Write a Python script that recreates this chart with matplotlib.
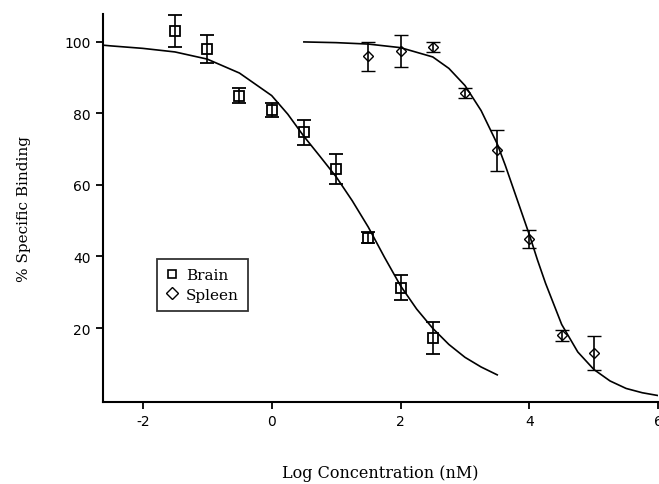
import matplotlib
matplotlib.use("Agg")
import matplotlib.pyplot as plt
from matplotlib.lines import Line2D

plt.rcParams["axes.unicode_minus"] = False

# Brain (squares)
brain_x = [-1.5, -1.0, -0.5, 0.0, 0.5, 1.0, 1.5, 2.0, 2.5]
brain_y = [103.0, 98.0, 85.0, 81.0, 74.8, 64.5, 45.3, 31.3, 17.2]
brain_err = [4.5, 4.0, 2.0, 2.0, 3.5, 4.3, 1.5, 3.5, 4.5]

# Spleen (diamonds)
spleen_x = [1.5, 2.0, 2.5, 3.0, 3.5, 4.0, 4.5, 5.0]
spleen_y = [96.0, 97.5, 98.6, 85.7, 69.7, 45.0, 18.0, 13.0]
spleen_err = [4.0, 4.5, 1.5, 1.5, 5.8, 2.5, 1.5, 4.7]

# fitted curves
brain_fit_x = [-2.62, -2.5, -2.0, -1.5, -1.0, -0.5, 0.0, 0.25, 0.5, 0.75, 1.0,
               1.25, 1.5, 1.75, 2.0, 2.25, 2.5, 2.75, 3.0, 3.25, 3.5]
brain_fit_y = [99.1, 98.9, 98.2, 97.2, 95.2, 91.3, 85.0, 79.8, 73.6, 68.0, 62.3,
               55.6, 48.2, 39.8, 31.8, 25.3, 19.9, 15.4, 11.8, 9.1, 6.9]
spleen_fit_x = [0.5, 1.0, 1.5, 2.0, 2.5, 2.75, 3.0, 3.25, 3.5, 3.625, 3.75, 3.875,
                4.0, 4.125, 4.25, 4.5, 4.75, 5.0, 5.25, 5.5, 5.75, 6.0]
spleen_fit_y = [100.0, 99.8, 99.4, 98.4, 95.8, 92.6, 87.8, 80.8, 71.5, 65.5, 59.0, 52.5,
                46.0, 39.0, 32.5, 21.0, 13.3, 8.4, 5.2, 3.1, 1.9, 1.1]

x_ticks = [-2, 0, 2, 4, 6]
y_ticks = [20, 40, 60, 80, 100]

serif = "DejaVu Serif"

fig = plt.figure(figsize=(6.59, 4.85), dpi=100)
ax = fig.add_axes([0.156, 0.169, 0.843, 0.800])

ax.plot(brain_fit_x, brain_fit_y, color="black", lw=1.2)
ax.plot(spleen_fit_x, spleen_fit_y, color="black", lw=1.2)

ax.errorbar(brain_x, brain_y, yerr=brain_err, fmt="s", mfc="none", mec="black",
            ms=7.5, mew=1.3, ecolor="black", elinewidth=1.2, capsize=5, capthick=1.2)
ax.errorbar(spleen_x, spleen_y, yerr=spleen_err, fmt="D", mfc="none", mec="black",
            ms=5.5, mew=1.0, ecolor="black", elinewidth=1.2, capsize=5, capthick=1.2)

ax.set_xlim(-2.62, 6.0)
ax.set_ylim(-0.7, 107.8)
ax.set_xticks(x_ticks)
ax.set_yticks(y_ticks)
ax.tick_params(direction="out", length=5, width=1.3, labelsize=10)
for s in ["top", "right"]:
    ax.spines[s].set_visible(False)
for s in ["left", "bottom"]:
    ax.spines[s].set_linewidth(1.5)

ax.set_xlabel("Log Concentration (nM)", family=serif, fontsize=11.5, labelpad=26)
ax.set_ylabel("% Specific Binding", family=serif, fontsize=11, labelpad=24)

handles = [Line2D([], [], ls="none", marker="s", mfc="none", mec="black", ms=6, mew=1.2),
           Line2D([], [], ls="none", marker="D", mfc="none", mec="black", ms=6, mew=1.0)]
leg = ax.legend(handles, ["Brain", "Spleen"], loc="upper left",
                prop={"family": serif, "size": 11}, frameon=True, fancybox=False,
                edgecolor="black", handlelength=0.8, handletextpad=0.5,
                borderpad=0.6, labelspacing=0.35, borderaxespad=0)
leg.set_bbox_to_anchor((157 / 659, 1 - 260 / 485), transform=fig.transFigure)
leg.get_frame().set_linewidth(1.3)

fig.savefig("out.png", dpi=100)
